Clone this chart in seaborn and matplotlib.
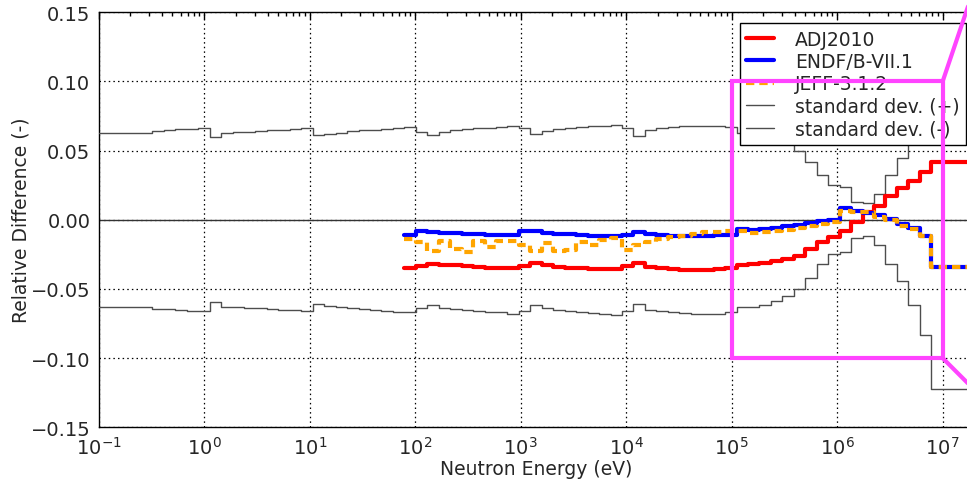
import numpy as np
import pandas as pd
import matplotlib
matplotlib.use("Agg")
import matplotlib.pyplot as plt
from matplotlib.patches import Rectangle
from matplotlib.ticker import (LogLocator, FixedLocator, FuncFormatter, NullFormatter,
                               LogFormatterSciNotation)
import seaborn as sns

# ---------------- data ----------------
# energy group boundaries (eV) for the library comparison (ascending)
lib_edges = [78.89, 101.3, 130.07, 167.02, 214.45, 275.36, 353.57, 454.0, 582.95,
             748.52, 961.12, 1234.1, 1584.6, 2034.7, 2612.6, 3354.6, 4307.4, 5530.8,
             7101.7, 9118.8, 11709, 15034, 19305, 24788, 31828, 40868, 52475, 67379,
             86517, 111090, 142640, 183160, 235180, 301970, 387740, 497870, 639280,
             820850, 1054000, 1353400, 1737700, 2231300, 2865000, 3678800, 4723700,
             6065300, 7788000, 10000000, 19640000]

adj2010 = [-0.0351, -0.0337, -0.0320, -0.0325, -0.0330, -0.0335, -0.0340, -0.0347,
           -0.0350, -0.0350, -0.0335, -0.0315, -0.0330, -0.0340, -0.0347, -0.0350,
           -0.0355, -0.0355, -0.0355, -0.0337, -0.0315, -0.0340, -0.0352, -0.0356,
           -0.0360, -0.0360, -0.0360, -0.0358, -0.0349, -0.0327, -0.0320, -0.0313,
           -0.0300, -0.0284, -0.0260, -0.0212, -0.0163, -0.0127, -0.0079, -0.0019,
           0.0053, 0.0101, 0.0173, 0.0227, 0.0277, 0.0342, 0.0415, 0.0415]

endf71 = [-0.0108, -0.0079, -0.0091, -0.0095, -0.0098, -0.0101, -0.0104, -0.0107,
          -0.0110, -0.0110, -0.0082, -0.0085, -0.0093, -0.0100, -0.0105, -0.0110,
          -0.0115, -0.0115, -0.0120, -0.0110, -0.0087, -0.0103, -0.0110, -0.0115,
          -0.0120, -0.0120, -0.0115, -0.0110, -0.0110, -0.0065, -0.0072, -0.0067,
          -0.0060, -0.0048, -0.0038, -0.0024, -0.0012, 0.0000, 0.0082, 0.0065,
          0.0048, 0.0034, 0.0005, -0.0031, -0.0060, -0.0120, -0.0344, -0.0344]

jeff312 = [-0.0140, -0.0163, -0.0228, -0.0152, -0.0210, -0.0236, -0.0157, -0.0200,
           -0.0157, -0.0152, -0.0180, -0.0224, -0.0166, -0.0224, -0.0220, -0.0160,
           -0.0180, -0.0145, -0.0135, -0.0217, -0.0183, -0.0160, -0.0140, -0.0128,
           -0.0116, -0.0104, -0.0092, -0.0090, -0.0085, -0.0085, -0.0095, -0.0092,
           -0.0085, -0.0072, -0.0060, -0.0045, -0.0030, -0.0015, 0.0065, 0.0058,
           0.0053, 0.0020, -0.0005, -0.0045, -0.0065, -0.0120, -0.0340, -0.0340]

# standard deviation: low-energy groups below the library range, then library groups
std_edges_low = [0.1, 0.3224, 0.414, 0.5316, 0.6826, 0.8764, 1.1254, 1.445, 1.8554,
                 2.3824, 3.059, 3.9279, 5.0435, 6.476, 8.3153, 10.677, 13.71, 17.603,
                 22.603, 29.023, 37.267, 47.851, 61.442]
sigma_low = [0.0630, 0.0643, 0.0648, 0.0653, 0.0658, 0.0662, 0.0594, 0.0628, 0.0632,
             0.0637, 0.0641, 0.0646, 0.0650, 0.0655, 0.0660, 0.0612, 0.0622, 0.0630,
             0.0638, 0.0645, 0.0650, 0.0658, 0.0665]
sigma_high = [0.0670, 0.0637, 0.0615, 0.0636, 0.0645, 0.0652, 0.0660, 0.0665, 0.0670,
              0.0678, 0.0663, 0.0619, 0.0640, 0.0652, 0.0660, 0.0668, 0.0675, 0.0680,
              0.0685, 0.0660, 0.0607, 0.0650, 0.0660, 0.0668, 0.0675, 0.0680, 0.0680,
              0.0680, 0.0670, 0.0630, 0.0630, 0.0614, 0.0590, 0.0550, 0.0500, 0.0420,
              0.0320, 0.0250, 0.0235, 0.0130, 0.0120, 0.0183, 0.0320, 0.0445, 0.0615,
              0.0830, 0.1220, 0.1220]

x_ticks = [1e-1, 1e0, 1e1, 1e2, 1e3, 1e4, 1e5, 1e6, 1e7]
y_ticks = [-0.15, -0.10, -0.05, 0.00, 0.05, 0.10, 0.15]

labels = ["ADJ2010", "ENDF/B-VII.1", "JEFF-3.1.2", "standard dev. (+)", "standard dev. (-)"]

# ---------------- figure ----------------
sns.set_style("white")
plt.rcParams["font.family"] = ["DejaVu Sans"]

W, H = 967, 481
fig = plt.figure(figsize=(W / 100, H / 100), dpi=100)
left_px, bottom_px = 98.7, 481 - 428.3
dec_px = 105.5
ax_w = 8.301 * dec_px
ax_h = 428.3 - 13.1
ax = fig.add_axes([left_px / W, bottom_px / H, ax_w / W, ax_h / H])


def step_frame(edges, vals):
    return pd.DataFrame({"E": edges, "v": list(vals) + [vals[-1]]})


def draw(df, **kw):
    sns.lineplot(data=df, x="E", y="v", ax=ax, estimator=None, sort=False,
                 drawstyle="steps-post", **kw)


std_edges = std_edges_low + lib_edges
sigma = sigma_low + sigma_high

draw(step_frame(lib_edges, adj2010), color="#ff0000", lw=3, label=labels[0], zorder=4)
draw(step_frame(lib_edges, endf71), color="#0000ff", lw=3, label=labels[1], zorder=5)
draw(step_frame(lib_edges, jeff312), color="#ffa500", lw=3, label=labels[2], zorder=6,
     linestyle=(0, (2.0, 1.2)))
draw(step_frame(std_edges, sigma), color="0.3", lw=1, label=labels[3], zorder=3)
draw(step_frame(std_edges, [-s for s in sigma]), color="0.3", lw=1, label=labels[4], zorder=3)

ax.axhline(0, color="0.2", lw=1, zorder=2)

ax.set_xscale("log")
ax.set_xlim(0.1, 2e7)
ax.set_ylim(-0.15, 0.15)
ax.yaxis.set_major_locator(FixedLocator(y_ticks))
ax.yaxis.set_major_formatter(FuncFormatter(lambda v, p: f"{v:.2f}".replace("-", "\u2212")))
ax.xaxis.set_major_locator(FixedLocator(x_ticks))
ax.xaxis.set_major_formatter(LogFormatterSciNotation())
ax.xaxis.set_minor_locator(LogLocator(base=10, subs=np.arange(2, 10), numticks=20))
ax.xaxis.set_minor_formatter(NullFormatter())

ax.grid(True, which="major", color="k", linestyle=(0, (1.2, 2.5)), lw=0.9, zorder=1)
ax.tick_params(which="both", direction="in", top=True, right=True, labelsize=14,
               color="k")
ax.tick_params(axis="y", pad=6)
ax.tick_params(axis="x", pad=6)
ax.tick_params(which="major", length=5, width=1)
ax.tick_params(which="minor", length=3, width=1)
for sp in ax.spines.values():
    sp.set_color("k")
    sp.set_linewidth(1)

ax.set_xlabel("Neutron Energy (eV)", fontsize=13.5, labelpad=1)
ax.set_ylabel("Relative Difference (-)", fontsize=13.5, labelpad=0)

# zoom marker
mag = "#ff44ff"
ax.add_patch(Rectangle((1e5, -0.1), 1e7 - 1e5, 0.2, fill=False, ec=mag, lw=3,
                       zorder=10, clip_on=False))
ax.plot([1e7, 10 ** 7.417], [0.1, 0.194], color=mag, lw=3, zorder=10, clip_on=False)
ax.plot([1e7, 10 ** 7.417], [-0.1, -0.1318], color=mag, lw=3, zorder=10, clip_on=False)

leg = ax.legend(loc="upper right", bbox_to_anchor=(966 / W, 1 - 24 / H),
                bbox_transform=fig.transFigure, borderaxespad=0, fontsize=13.5,
                labelspacing=0.18, handlelength=1.5, handletextpad=1.1,
                borderpad=0.35, fancybox=False, framealpha=1, edgecolor="k")
leg.get_frame().set_linewidth(1)
leg.set_zorder(8)

fig.savefig("out.png", dpi=100)
